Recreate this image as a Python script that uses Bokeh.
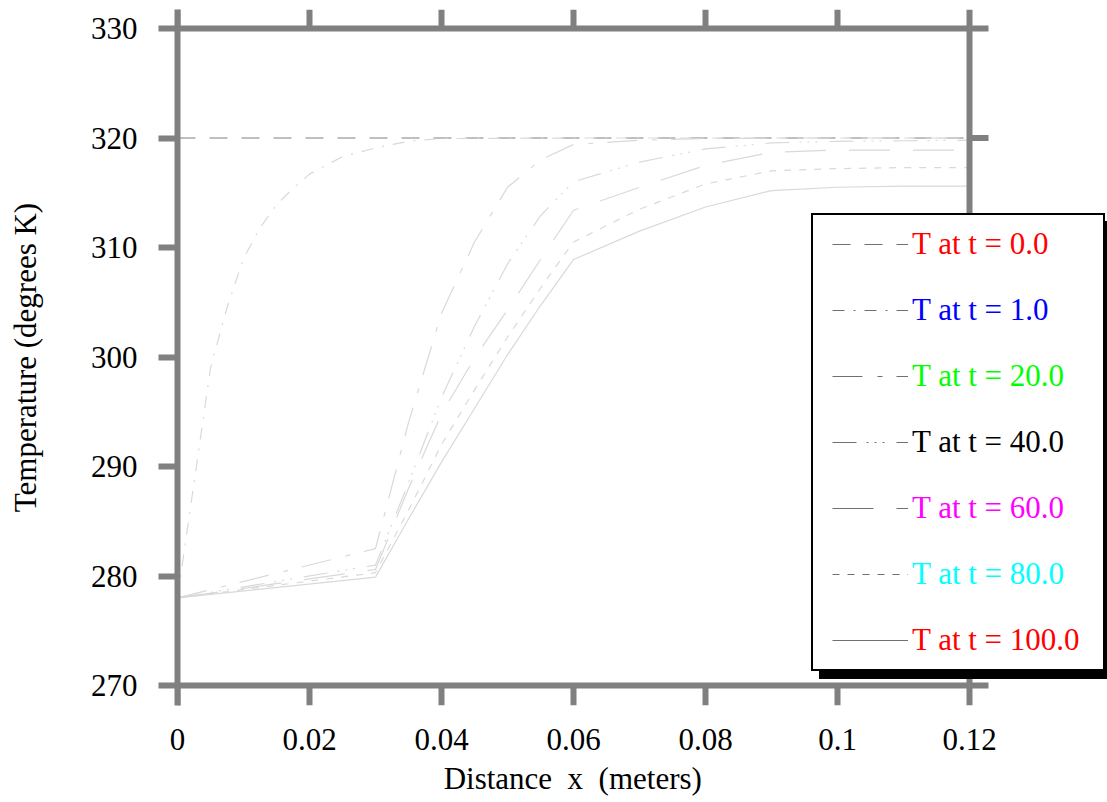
from bokeh.plotting import figure
from bokeh.models import (Legend, LegendItem, FixedTicker,
                          CustomJSTickFormatter, Range1d)
from bokeh.embed import file_html
from bokeh.resources import INLINE

# ---------------- data ----------------
x_t0 = [0.0, 0.12]
T_t0 = [320.0, 320.0]

x_t1 = [0.0, 0.0025, 0.005, 0.0075, 0.01, 0.0125, 0.015, 0.0175, 0.02,
        0.025, 0.03, 0.035, 0.04, 0.06, 0.08, 0.10, 0.12]
T_t1 = [278.0, 288.5, 299.0, 304.5, 309.0, 311.8, 313.9, 315.4, 316.7,
        318.3, 319.1, 319.7, 319.95, 320.0, 320.0, 320.0, 320.0]

x_grid = [0.0, 0.03, 0.035, 0.04, 0.045, 0.05, 0.055, 0.06, 0.07, 0.08,
          0.09, 0.10, 0.11, 0.12]
T_t20 = [278.0, 282.5, 294.0, 304.0, 310.5, 315.5, 318.0, 319.4, 319.8,
         319.95, 320.0, 320.0, 320.0, 320.0]
T_t40 = [278.0, 281.0, 288.5, 296.3, 302.8, 308.5, 312.9, 316.0, 317.8,
         319.0, 319.55, 319.7, 319.75, 319.8]
T_t60 = [278.0, 280.6, 288.0, 294.8, 299.9, 304.3, 308.9, 313.4, 315.5,
         317.5, 318.7, 318.9, 318.9, 318.9]
T_t80 = [278.0, 280.3, 286.0, 292.0, 297.0, 301.8, 306.3, 310.5, 313.5,
         315.8, 317.0, 317.2, 317.3, 317.3]
T_t100 = [278.0, 279.9, 285.2, 290.4, 295.3, 300.2, 304.7, 308.9, 311.5,
          313.7, 315.2, 315.5, 315.6, 315.6]

series_labels = ["T at t = 0.0", "T at t = 1.0", "T at t = 20.0",
                 "T at t = 40.0", "T at t = 60.0", "T at t = 80.0",
                 "T at t = 100.0"]
series_x = [x_t0, x_t1, x_grid, x_grid, x_grid, x_grid, x_grid]
series_T = [T_t0, T_t1, T_t20, T_t40, T_t60, T_t80, T_t100]
label_colors = ["#ff0000", "#0000ff", "#00ff00", "#000000", "#ff00ff",
                "#00ffff", "#ff0000"]
dashes = ["18 14", "12 9 2 9", "30 15 5 14", "24 10 2 6 2 6 2 12",
          "41 23", "7 8", "solid"]
plot_colors = ["#808080", "#d9d9d9", "#d9d9d9", "#d9d9d9", "#d9d9d9",
               "#d9d9d9", "#d9d9d9"]

x_ticks = [0.0, 0.02, 0.04, 0.06, 0.08, 0.10, 0.12]
y_ticks = [270, 280, 290, 300, 310, 320, 330]

FONT = "Liberation Serif"
FS = "31px"
GRAY = "#808080"

# ---------------- geometry (pixels) ----------------
FIG_W, FIG_H = 1107, 802
F_LEFT = 177          # x = 0 here
AX_RIGHT = 969        # x = 0.12 here
AX_TOP = 28           # y = 330 here
AX_BOTTOM = 685       # y = 270 here
TICK_UP = 19
TICK_DOWN = 20
F_TOP = AX_TOP - TICK_UP
F_BOTTOM = AX_BOTTOM + TICK_DOWN

x0, x1 = x_ticks[0], x_ticks[-1]
y0, y1 = y_ticks[0], y_ticks[-1]
xpp = (x1 - x0) / (AX_RIGHT - F_LEFT)        # data units per pixel
ypp = (y1 - y0) / (AX_BOTTOM - AX_TOP)

x_range = Range1d(x0, x0 + (FIG_W - F_LEFT) * xpp)
y_range = Range1d(y0 - TICK_DOWN * ypp, y1 + TICK_UP * ypp)

p = figure(width=FIG_W, height=FIG_H, output_backend="svg",
           toolbar_location=None, x_range=x_range, y_range=y_range,
           min_border=0, min_border_left=F_LEFT, min_border_right=0,
           min_border_top=F_TOP, min_border_bottom=FIG_H - F_BOTTOM)
p.outline_line_color = None
p.xgrid.visible = False
p.ygrid.visible = False
p.background_fill_color = "white"
p.border_fill_color = "white"

# left axis: real axis with line + ticks
ya = p.yaxis[0]
ya.ticker = FixedTicker(ticks=y_ticks)
ya.axis_line_color = GRAY
ya.axis_line_width = 6
ya.major_tick_line_color = GRAY
ya.major_tick_line_width = 6
ya.major_tick_out = 19
ya.major_tick_in = 0
ya.minor_tick_line_color = None
ya.major_label_text_font = FONT
ya.major_label_text_font_size = FS
ya.major_label_text_color = "black"
ya.major_label_standoff = 21
ya.axis_label = "Temperature (degrees K)"
ya.axis_label_text_font = FONT
ya.axis_label_text_font_size = FS
ya.axis_label_text_font_style = "normal"
ya.axis_label_text_color = "black"
ya.axis_label_standoff = 45

# bottom axis: labels only (frame lines/ticks are drawn below)
xa = p.xaxis[0]
xa.ticker = FixedTicker(ticks=x_ticks)
xa.formatter = CustomJSTickFormatter(
    code="return tick == 0 ? '0' : String(+tick.toFixed(2));")
xa.axis_line_color = None
xa.major_tick_line_color = None
xa.major_tick_out = 0
xa.major_tick_in = 0
xa.minor_tick_line_color = None
xa.major_label_text_font = FONT
xa.major_label_text_font_size = FS
xa.major_label_text_color = "black"
xa.major_label_standoff = 23
# trailing no-break spaces keep the label centred under the axis box
xa.axis_label = "Distance \u00a0x \u00a0(meters)" + "\u00a0" * 18
xa.axis_label_text_font = FONT
xa.axis_label_text_font_size = FS
xa.axis_label_text_font_style = "normal"
xa.axis_label_text_color = "black"
xa.axis_label_standoff = 8

# ---------------- curves ----------------
curves = []
for xs, Ts, c, d in zip(series_x, series_T, plot_colors, dashes):
    curves.append(p.line(x=xs, y=Ts, line_color=c, line_width=1.2, line_dash=d))

# ---------------- box frame: top/bottom/right lines and ticks ----------------
p.segment(x0=[x0, x0, x1], y0=[y1, y0, y0], x1=[x1, x1, x1], y1=[y1, y0, y1],
          line_color=GRAY, line_width=6)
p.segment(x0=x_ticks, y0=[y1] * len(x_ticks), x1=x_ticks,
          y1=[y1 + TICK_UP * ypp] * len(x_ticks), line_color=GRAY, line_width=6)
p.segment(x0=x_ticks, y0=[y0] * len(x_ticks), x1=x_ticks,
          y1=[y0 - TICK_DOWN * ypp] * len(x_ticks), line_color=GRAY, line_width=6)
p.segment(x0=[x1] * len(y_ticks), y0=y_ticks, x1=[x1 + 19 * xpp] * len(y_ticks),
          y1=y_ticks, line_color=GRAY, line_width=6)

# ---------------- legend (shadow + box + coloured rows) ----------------
box_r = p.line(x=x_t0, y=T_t0, line_alpha=0, visible=False)


def box_legend(loc, fill):
    return Legend(items=[LegendItem(label=" ", renderers=[box_r]) for _ in range(7)],
                  location=loc, padding=10, margin=0, spacing=28,
                  glyph_width=100, glyph_height=38, label_width=170,
                  label_height=38, label_standoff=0,
                  label_text_font=FONT, label_text_font_size=FS,
                  background_fill_color=fill, background_fill_alpha=1,
                  border_line_color="black", border_line_alpha=1,
                  border_line_width=2)


BOX_X, BOX_Y = 811 - F_LEFT, F_BOTTOM - 671
p.add_layout(box_legend((BOX_X + 8, BOX_Y - 8), "black"))
p.add_layout(box_legend((BOX_X, BOX_Y), "white"))

for i, (lab, col, d, xs, Ts) in enumerate(zip(series_labels, label_colors, dashes,
                                              series_x, series_T)):
    r = p.line(x=xs, y=Ts, line_color="#707070", line_width=1, line_dash=d,
               visible=False)
    row_bottom = 243.5 + 66 * i + 19
    lg = Legend(items=[LegendItem(label=lab, renderers=[r])],
                location=(832 - F_LEFT, F_BOTTOM - row_bottom),
                padding=0, margin=0, spacing=0,
                glyph_width=76, glyph_height=38, label_height=38,
                label_standoff=4, label_text_font=FONT,
                label_text_font_size=FS, label_text_color=col,
                background_fill_alpha=0, border_line_color=None)
    p.add_layout(lg)

open("out.html", "w").write(file_html(p, INLINE))
